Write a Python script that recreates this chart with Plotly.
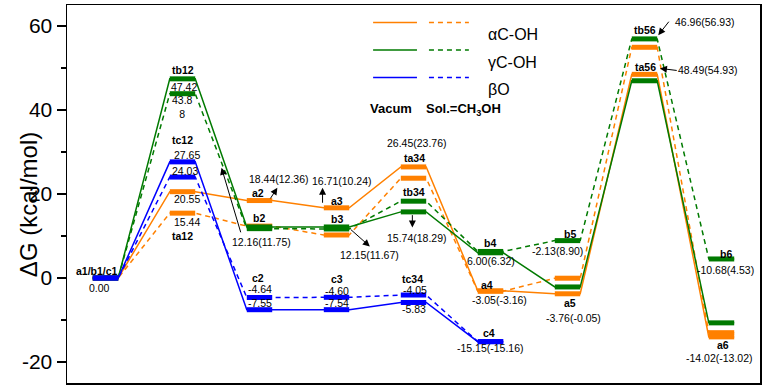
import plotly.graph_objects as go

# ---------------- data ----------------
steps = [1, 2, 3, 4, 5, 6, 7, 8, 9]
orange_vac = [0, 20.55, 18.44, 16.71, 26.45, -3.05, -3.76, 48.49, -14.02]
orange_sol = [0, 15.44, 12.36, 10.24, 23.76, -3.16, -0.05, 54.93, -13.02]
green_vac = [0, 47.42, 12.16, 12.15, 15.74, 6.00, -2.13, 46.96, -10.68]
green_sol = [0, 43.88, 11.75, 11.67, 18.29, 6.32, 8.90, 56.93, 4.53]
blue_vac = [0, 27.65, -7.55, -7.54, -5.83, -15.15]
blue_sol = [0, 24.03, -4.64, -4.60, -4.05, -15.16]

series_names = ["αC-OH", "γC-OH", "βO"]
colors = ["#FF8000", "#007A00", "#0000FF"]
ytick_vals = [-20, 0, 20, 40, 60]
ytick_text = ["-20", "0", "20", "40", "60"]

HW = 0.165  # half width of a level bar
DASH = "5px,4px"
FONT = "Arial, Liberation Sans, sans-serif"


def path_xy(vals):
    xs, ys = [], []
    for i, v in enumerate(vals):
        xs += [steps[i] - HW, steps[i] + HW]
        ys += [v, v]
    return xs, ys


def bar_xy(vals):
    xs, ys = [], []
    for i, v in enumerate(vals):
        xs += [steps[i] - HW, steps[i] + HW, None]
        ys += [v, v, None]
    return xs, ys


fig = go.Figure()
groups = [(orange_vac, orange_sol), (green_vac, green_sol), (blue_vac, blue_sol)]
for (vac, sol), col in zip(groups, colors):
    for vals, dash in [(sol, DASH), (vac, "solid")]:
        x, y = path_xy(vals)
        fig.add_trace(go.Scatter(x=x, y=y, mode="lines",
                                 line=dict(color=col, width=1.5, dash=dash),
                                 hoverinfo="skip", showlegend=False))
    for vals in (sol, vac):
        x, y = bar_xy(vals)
        fig.add_trace(go.Scatter(x=x, y=y, mode="lines",
                                 line=dict(color=col, width=5),
                                 hoverinfo="skip", showlegend=False))

# ---------------- labels ----------------
# (text, step, level, xshift px, yshift px, bold)
labels = [
    ("a1/b1/c1", 1, 0, -8.6, 7, True),
    ("0.00", 1, 0, -5.6, -10, False),
    ("tb12", 2, green_vac[1], 0, 9.2, True),
    ("47.42", 2, green_vac[1], 1, -8.5, False),
    ("43.8<br>8", 2, green_sol[1], 0, -13.4, False),
    ("tc12", 2, blue_vac[1], 0, 21.7, True),
    ("27.65", 2, blue_vac[1], 4, 7, False),
    ("24.03", 2, blue_sol[1], 2, 6.2, False),
    ("20.55", 2, orange_vac[1], 4, -7.4, False),
    ("15.44", 2, orange_sol[1], 4, -9.2, False),
    ("ta12", 2, orange_sol[1], 0, -22.5, True),
    ("a2", 3, orange_vac[2], -2, 7.5, True),
    ("18.44(12.36)", 3, orange_vac[2], 19, 21.8, False),
    ("b2", 3, green_vac[2], -1, 9.1, True),
    ("12.16(11.75)", 3, green_vac[2], 2, -14.6, False),
    ("a3", 4, orange_vac[3], 0, 7.1, True),
    ("16.71(10.24)", 4, orange_vac[3], 5, 27, False),
    ("b3", 4, green_vac[3], 0, 8.1, True),
    ("12.15(11.67)", 4, green_vac[3], 33, -27.6, False),
    ("26.45(23.76)", 5, orange_vac[4], 3.5, 24.3, False),
    ("ta34", 5, orange_vac[4], 0.5, 9.3, True),
    ("tb34", 5, green_sol[4], 0.5, 8.8, True),
    ("15.74(18.29)", 5, green_vac[4], 3.5, -26.5, False),
    ("c2", 3, blue_sol[2], -2, 19, True),
    ("-4.64", 3, blue_sol[2], 0, 8, False),
    ("-7.55", 3, blue_vac[2], 0, 6.3, False),
    ("c3", 4, blue_sol[3], 0, 18.8, True),
    ("-4.60", 4, blue_sol[3], 0, 6.4, False),
    ("-7.54", 4, blue_vac[3], 0, 6.5, False),
    ("tc34", 5, blue_sol[4], -1.5, 16.5, True),
    ("-4.05", 5, blue_sol[4], 1.2, 5.5, False),
    ("-5.83", 5, blue_vac[4], 0.5, -7, False),
    ("c4", 6, blue_vac[5], -1.7, 8.4, True),
    ("-15.15(-15.16)", 6, blue_vac[5], 0.3, -6.3, False),
    ("b4", 6, green_vac[5], -0.7, 9.7, True),
    ("6.00(6.32)", 6, green_vac[5], 0.3, -8.3, False),
    ("a4", 6, orange_vac[5], -3.7, 5.6, True),
    ("-3.05(-3.16)", 6, orange_vac[5], 9, -9.4, False),
    ("b5", 7, green_sol[6], 2.7, 6.8, True),
    ("-2.13(8.90)", 7, green_sol[6], -10, -9.9, False),
    ("a5", 7, orange_vac[6], 2, -9.1, True),
    ("-3.76(-0.05)", 7, orange_vac[6], 6, -24.1, False),
    ("tb56", 8, green_sol[7], 0.5, 9, True),
    ("46.96(56.93)", 8, green_sol[7], 60, 17.3, False),
    ("ta56", 8, orange_vac[7], 0.5, 7.3, True),
    ("48.49(54.93)", 8, orange_vac[7], 63, 4, False),
    ("b6", 9, green_sol[8], 4.6, 5.3, True),
    ("-10.68(4.53)", 9, green_sol[8], 3.6, -11.4, False),
    ("a6", 9, orange_vac[8], 1.6, -8.1, True),
    ("-14.02(-13.02)", 9, orange_vac[8], -2.4, -20.8, False),
]
for text, sx, lv, xs, ys, bold in labels:
    fig.add_annotation(x=sx, y=lv, xref="x", yref="y",
                       text=f"<b>{text}</b>" if bold else text,
                       showarrow=False, xshift=xs, yshift=ys,
                       font=dict(family=FONT, size=10.5, color="black"))

# arrows: (head x, head y, tail x, tail y) in data units
arrows = [
    (3.232, 21.49, 3.129, 18.58),
    (2.507, 26.23, 2.762, 10.52),
    (3.819, 21.49, 3.819, 17.56),
    (4.433, 7.52, 4.165, 11.87),
    (4.985, 12.02, 4.985, 15.33),
    (8.179, 57.82, 8.331, 61.38),
    (8.201, 49.91, 8.438, 49.37),
]
for hx, hy, tx, ty in arrows:
    fig.add_annotation(x=hx, y=hy, ax=tx, ay=ty, xref="x", yref="y",
                       axref="x", ayref="y", text="", showarrow=True,
                       arrowhead=2, arrowsize=1.4, arrowwidth=1,
                       arrowcolor="black", standoff=0, startstandoff=0)

# ---------------- legend (drawn manually) ----------------
leg_y = [0.9534, 0.8808, 0.8079]
for name, col, ly in zip(series_names, colors, leg_y):
    fig.add_shape(type="line", xref="paper", yref="paper", x0=0.4417, x1=0.505,
                  y0=ly, y1=ly, line=dict(color=col, width=1.5))
    fig.add_shape(type="line", xref="paper", yref="paper", x0=0.5223, x1=0.5799,
                  y0=ly, y1=ly, line=dict(color=col, width=1.5, dash=DASH))
    fig.add_annotation(x=0.6043, y=ly - 0.004, xref="paper", yref="paper",
                       text=name, showarrow=False, xanchor="left",
                       font=dict(family=FONT, size=16, color="black"))
fig.add_annotation(x=0.4676, y=0.7518, xref="paper", yref="paper",
                   text="<b>Vacum</b>", showarrow=False,
                   font=dict(family=FONT, size=13, color="black"))
fig.add_annotation(x=0.5727, y=0.7518, xref="paper", yref="paper",
                   text="<b>Sol.=CH<sub>3</sub>OH</b>", showarrow=False,
                   font=dict(family=FONT, size=13, color="black"))

# y-axis title
fig.add_annotation(x=-0.0776, y=0.4724, xref="paper", yref="paper",
                   text="ΔG (kcal/mol)", textangle=-90, showarrow=False,
                   font=dict(family=FONT, size=24, color="black"))

fig.update_layout(
    width=765, height=387,
    margin=dict(l=67, r=3, t=3, b=4),
    paper_bgcolor="white", plot_bgcolor="white",
    showlegend=False,
    xaxis=dict(range=[0.5, 9.5], showgrid=False, zeroline=False,
               showticklabels=False, ticks="", showline=True, mirror=True,
               linecolor="black", linewidth=1.5),
    yaxis=dict(range=[-25, 65], showgrid=False, zeroline=False,
               tickvals=ytick_vals, ticktext=ytick_text,
               ticks="outside", ticklen=9, tickwidth=1.5, tickcolor="black",
               minor=dict(ticks="outside", ticklen=5, tickwidth=1.5,
                          tickcolor="black", dtick=10, tick0=0, showgrid=False),
               tickfont=dict(family=FONT, size=21, color="black"),
               showline=True, mirror=True, linecolor="black", linewidth=1.5),
)

fig.write_html("out.html",
               config={"displayModeBar": False, "staticPlot": True},
               post_script="document.body.style.margin='0px';"
                           "document.body.style.overflow='hidden';")
